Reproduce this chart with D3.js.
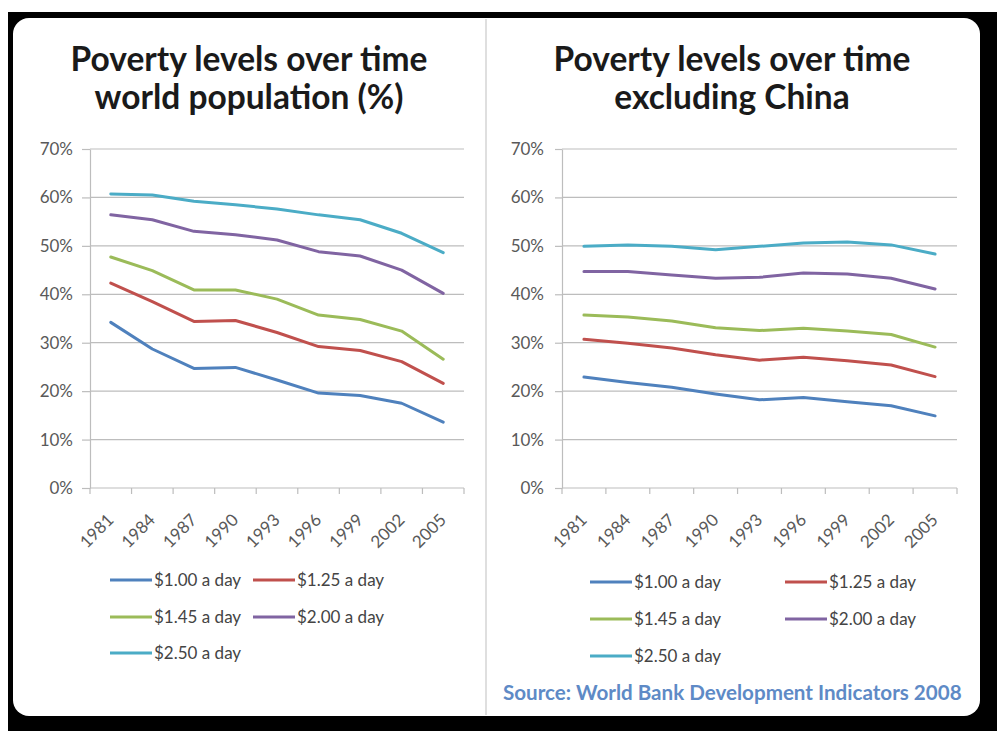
<!DOCTYPE html>
<html>
<head>
<meta charset="utf-8">
<script src="https://cdn.jsdelivr.net/npm/d3@7"></script>
<style>
  body { margin: 0; background: #fff; }
  svg { display: block; font-family: Lato, "Open Sans", sans-serif; }
</style>
</head>
<body>
<script>
const WIDTH = 997;
const HEIGHT = 731;

// categories and ticks
const years = ["1981","1984","1987","1990","1993","1996","1999","2002","2005"];
const yTicks = [0,10,20,30,40,50,60,70];
const seriesNames = ["$1.00 a day","$1.25 a day","$1.45 a day","$2.00 a day","$2.50 a day"];

// world population (%)
const world100 = [34.2,28.7,24.7,24.9,22.3,19.6,19.1,17.5,13.6];
const world125 = [42.3,38.5,34.4,34.6,32.1,29.2,28.4,26.1,21.6];
const world145 = [47.7,44.9,40.9,40.9,39.0,35.7,34.8,32.4,26.6];
const world200 = [56.4,55.4,53.0,52.3,51.2,48.8,47.9,45.0,40.2];
const world250 = [60.7,60.5,59.2,58.5,57.6,56.4,55.4,52.6,48.6];

// excluding China (%)
const exChina100 = [22.9,21.8,20.8,19.4,18.2,18.7,17.8,17.0,14.9];
const exChina125 = [30.7,29.9,28.9,27.5,26.4,27.0,26.3,25.4,23.0];
const exChina145 = [35.7,35.3,34.5,33.1,32.5,33.0,32.4,31.7,29.1];
const exChina200 = [44.7,44.7,44.0,43.3,43.5,44.4,44.2,43.3,41.1];
const exChina250 = [49.9,50.2,49.9,49.2,49.9,50.6,50.8,50.2,48.3];

const colors = ["#4F81BD","#C0504D","#9BBB59","#8064A2","#4BACC6"];

function setup(){
    let svg = d3.select("body")
        .append("svg")
        .attr("width",WIDTH)
        .attr("height",HEIGHT);

    // black frame + rounded white card
    svg.append("rect")
        .attr("x",8).attr("y",12)
        .attr("width",WIDTH-8).attr("height",HEIGHT-12)
        .attr("fill","#000");
    svg.append("rect")
        .attr("x",13).attr("y",18)
        .attr("width",967).attr("height",698)
        .attr("rx",16)
        .attr("fill","#fff");
    svg.append("line")
        .attr("x1",486).attr("x2",486)
        .attr("y1",19).attr("y2",715)
        .attr("stroke","#d4d4d4")
        .attr("stroke-width",1.5);

    panel(svg,{
        title:["Poverty levels over time","world population (%)"],
        cx:249,
        x0:90, x1:464,
        tick:8, pad:9,
        series:[world100,world125,world145,world200,world250],
        legendX:[110,253],
        legendY:[580,617,653]
    });
    panel(svg,{
        title:["Poverty levels over time","excluding China"],
        cx:732,
        x0:562, x1:957,
        tick:7, pad:11,
        series:[exChina100,exChina125,exChina145,exChina200,exChina250],
        legendX:[590,785],
        legendY:[582,619,656]
    });

    svg.append("text")
        .attr("x",503).attr("y",700)
        .attr("fill","#5E8AC6")
        .attr("font-weight","bold")
        .attr("font-size",20.6)
        .text("Source: World Bank Development Indicators 2008");
}

function panel(svg,p){
    let yTop = 149, yBottom = 488;

    let title = svg.append("text")
        .attr("text-anchor","middle")
        .attr("font-weight","bold")
        .attr("font-size",33.5)
        .attr("fill","#1a1a1a");
    title.selectAll("tspan")
        .data(p.title)
        .enter()
        .append("tspan")
        .attr("x",p.cx)
        .attr("y",(d,i)=>71+i*38)
        .text(d=>d);

    let x = d3.scaleBand()
        .domain(years)
        .range([p.x0,p.x1]);
    let y = d3.scaleLinear()
        .domain([0,70])
        .range([yBottom,yTop]);

    // gridlines
    svg.append("g")
        .selectAll("line")
        .data(yTicks.filter(t=>t>0))
        .enter()
        .append("line")
        .attr("x1",p.x0).attr("x2",p.x1)
        .attr("y1",d=>y(d)).attr("y2",d=>y(d))
        .attr("stroke","#bdbdbd")
        .attr("stroke-width",1.2);

    let yAxis = svg.append("g")
        .attr("transform",`translate(${p.x0},0)`)
        .call(d3.axisLeft(y)
            .tickValues(yTicks)
            .tickFormat(d=>d+"%")
            .tickSizeInner(p.tick)
            .tickSizeOuter(0)
            .tickPadding(p.pad));
    yAxis.select(".domain").attr("stroke","#bdbdbd").attr("stroke-width",1.2);
    yAxis.selectAll(".tick line").attr("stroke","#bdbdbd").attr("stroke-width",1.2);
    yAxis.selectAll(".tick text")
        .attr("font-family","Lato")
        .attr("font-size",17)
        .attr("fill","#595959");

    // x axis line with ticks at category boundaries
    let g = svg.append("g");
    g.append("line")
        .attr("x1",p.x0).attr("x2",p.x1)
        .attr("y1",yBottom).attr("y2",yBottom)
        .attr("stroke","#bdbdbd").attr("stroke-width",1.2);
    g.selectAll(".xt")
        .data(years.concat(["end"]))
        .enter()
        .append("line")
        .attr("x1",(d,i)=>p.x0+i*x.step())
        .attr("x2",(d,i)=>p.x0+i*x.step())
        .attr("y1",yBottom).attr("y2",yBottom+6)
        .attr("stroke","#bdbdbd").attr("stroke-width",1.2);
    g.selectAll(".xl")
        .data(years)
        .enter()
        .append("text")
        .attr("transform",d=>`translate(${x(d)+x.bandwidth()/2+4},${yBottom+33}) rotate(-45)`)
        .attr("text-anchor","end")
        .attr("font-size",17)
        .attr("fill","#595959")
        .text(d=>d);

    // lines
    let line = d3.line()
        .x((d,i)=>x(years[i])+x.bandwidth()/2)
        .y(d=>y(d));
    svg.append("g")
        .selectAll("path")
        .data(p.series)
        .enter()
        .append("path")
        .attr("d",line)
        .attr("fill","none")
        .attr("stroke",(d,i)=>colors[i])
        .attr("stroke-width",3)
        .attr("stroke-linejoin","round")
        .attr("stroke-linecap","round");

    // legend
    let items = svg.append("g")
        .selectAll("g")
        .data(seriesNames)
        .enter()
        .append("g")
        .attr("transform",(d,i)=>`translate(${p.legendX[i%2]},${p.legendY[Math.floor(i/2)]})`);
    items.append("line")
        .attr("x1",0).attr("x2",42)
        .attr("stroke",(d,i)=>colors[i])
        .attr("stroke-width",3);
    items.append("text")
        .attr("x",44)
        .attr("dy","0.35em")
        .attr("font-size",17)
        .attr("fill","#444")
        .text(d=>d);
}

window.addEventListener("load",setup);
</script>
</body>
</html>
